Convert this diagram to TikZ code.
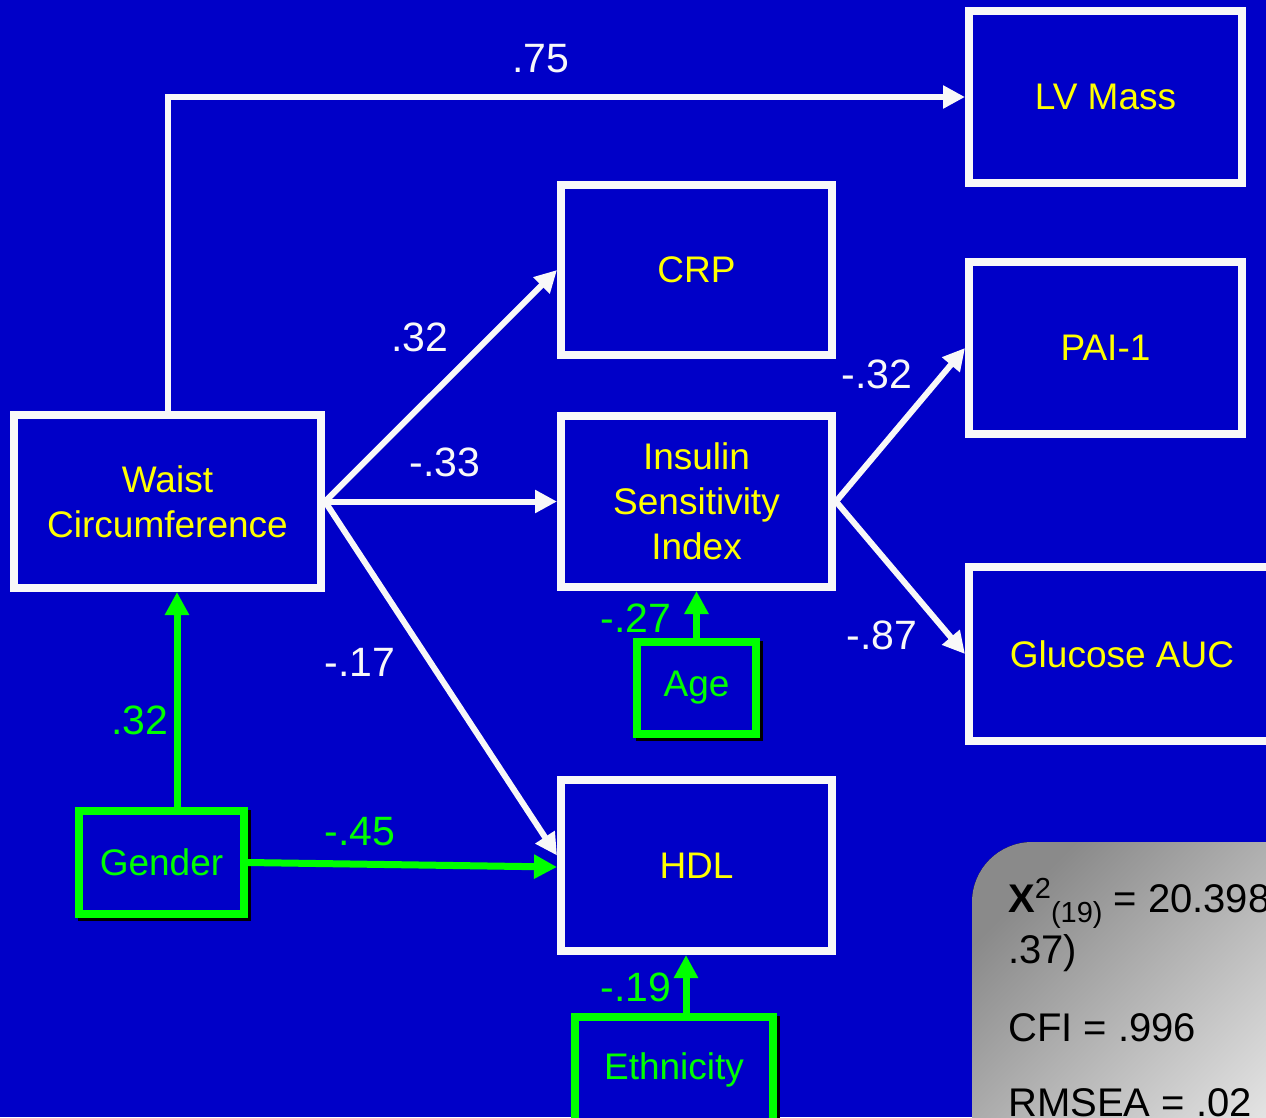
\documentclass[tikz,border=0pt]{standalone}
\usepackage{fontspec}
\setmainfont{Liberation Sans}
\usetikzlibrary{arrows.meta}
\definecolor{bg}{RGB}{0,0,200}
\definecolor{ylw}{RGB}{255,255,0}
\definecolor{grn}{RGB}{0,255,0}
\definecolor{wht}{RGB}{248,248,248}
\definecolor{gdark}{RGB}{138,138,138}
\definecolor{glight}{RGB}{232,232,232}
\begin{document}
\begin{tikzpicture}[x=1pt,y=-1pt,
  wbox/.style={draw=wht, line width=8pt, fill=bg, inner sep=0pt, text=ylw, align=center, font=\fontsize{37}{45}\selectfont},
  gbox/.style={draw=grn, line width=8pt, fill=bg, inner sep=0pt, text=grn, align=center, font=\fontsize{37}{45}\selectfont, preaction={draw=black, line width=8pt, transform canvas={xshift=3pt,yshift=-3pt}}},
  warr/.style={draw=wht, line width=6pt, -{Triangle[length=22pt,width=22pt]}},
  garr/.style={draw=grn, line width=7pt, -{Triangle[length=23pt,width=23pt]}},
  wlab/.style={text=wht, font=\fontsize{41}{41}\selectfont, inner sep=0pt},
  glab/.style={text=grn, font=\fontsize{41}{41}\selectfont, inner sep=0pt},
  fittxt/.style={text=black, font=\fontsize{40}{40}\selectfont, anchor=base west, inner sep=0pt}
]
\useasboundingbox (0,0) rectangle (1266,1117);
\fill[bg] (0,0) rectangle (1266,1117);
\clip (0,0) rectangle (1266,1117);

% boxes
\node[wbox, minimum width=273pt, minimum height=172pt] (lv) at (1105.5,97) {LV Mass};
\node[wbox, minimum width=271pt, minimum height=170pt] (crp) at (696.5,270) {CRP};
\node[wbox, minimum width=273pt, minimum height=172pt] (pai) at (1105.5,348) {PAI-1};
\node[wbox, minimum width=271pt, minimum height=171pt] (isi) at (696.5,501.5) {Insulin\\Sensitivity\\Index};
\node[wbox, minimum width=307pt, minimum height=173pt] (waist) at (167.5,501.5) {Waist\\Circumference};
\node[wbox, minimum width=306pt, minimum height=174pt] (glu) at (1122,654) {Glucose AUC};
\node[wbox, minimum width=271pt, minimum height=171pt] (hdl) at (696.5,865.5) {HDL};
\node[gbox, minimum width=119pt, minimum height=92pt] (age) at (696.5,688) {Age};
\node[gbox, minimum width=165pt, minimum height=103pt] (gender) at (161.5,862.5) {Gender};
\node[gbox, minimum width=198pt, minimum height=106pt] (eth) at (674,1070) {Ethnicity};

% helper coordinates
\coordinate (gx) at (177,0);
\coordinate (ex) at (686,0);

% white arrows
\draw[warr] (waist.north) -- (waist.north |- lv.west) -- (lv.west);
\draw[warr] (waist.east) -- (crp.west);
\draw[warr] (waist.east) -- ([yshift=10pt]hdl.west);
\draw[warr] (waist.east) -- (isi.west);
\draw[warr] (isi.east) -- (pai.west);
\draw[warr] (isi.east) -- (glu.west);

% green arrows
\draw[garr] (gender.north -| gx) -- (waist.south -| gx);
\draw[garr] (gender.east) -- ([yshift=-1.5pt]hdl.west);
\draw[garr] (age.north) -- (isi.south);
\draw[garr] (eth.north -| ex) -- (hdl.south -| ex);

% labels
\node[wlab] (l75) at (541,59) {.75};
\node[wlab] (l32) at (420,337) {.32};
\node[wlab] (l33) at (445,462) {-.33};
\node[wlab] (l17) at (360,662) {-.17};
\node[wlab] (lm32) at (877,374) {-.32};
\node[wlab] (l87) at (882,635) {-.87};
\node[glab] (g32) at (140,720) {.32};
\node[glab] (g45) at (360,832) {-.45};
\node[glab] (g27) at (636,618) {-.27};
\node[glab] (g19) at (636,987) {-.19};

% fit statistics box
\fill[rounded corners=60pt, top color=gdark, bottom color=glight, shading angle=45] (972,842) rectangle (1330,1180);
\node[fittxt] (chi) at (1008,912) {\textbf{X}\raisebox{14pt}{\fontsize{29}{29}\selectfont 2}\raisebox{-10pt}{\fontsize{29}{29}\selectfont (19)} = 20.398};
\node[fittxt] (chib) at (1008,963) {.37)};
\node[fittxt] (cfi) at (1008,1041) {CFI = .996};
\node[fittxt] (rmsea) at (1008,1116) {RMSEA = .02};
\end{tikzpicture}
\end{document}
